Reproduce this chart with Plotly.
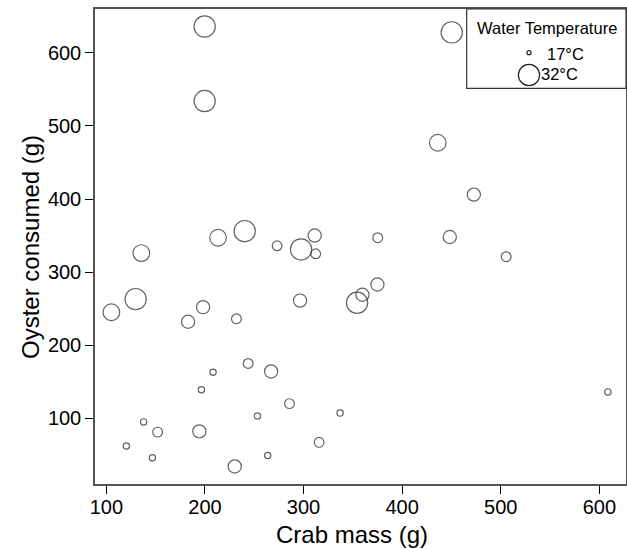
import plotly.graph_objects as go

crab_mass = [199.7, 199.7, 450.3, 436.1, 472.7, 135.5, 213.3, 240.3, 273.2, 311.3,
             297.5, 312.3, 105.1, 129.7, 182.9, 198.1, 231.9, 296.5, 354.3, 359.7,
             375.2, 448.3, 505.5, 374.9, 608.6, 208.2, 243.8, 267.1, 196.4, 285.7,
             137.8, 152.0, 194.3, 253.2, 337.1, 120.3, 146.7, 315.8, 263.6, 230.2]
oyster_consumed = [636, 534, 628, 477, 406, 326, 347, 356, 336, 350,
                   331, 325, 245, 263, 232, 252, 236, 261, 258, 269,
                   347, 348, 321, 283, 136, 163, 175, 164, 139, 120,
                   95, 81, 82, 103, 107, 62, 46, 67, 49, 34]
water_temp = [32, 32, 32, 28, 25, 28, 28, 32, 22, 25,
              32, 22, 28, 32, 25, 25, 22, 25, 32, 25,
              22, 25, 22, 25, 19, 19, 22, 25, 19, 22,
              19, 22, 25, 19, 19, 19, 19, 22, 19, 25]
legend_temps = [17, 32]
legend_labels = ["17°C", "32°C"]
x_ticks = [100, 200, 300, 400, 500, 600]
y_ticks = [100, 200, 300, 400, 500, 600]


def temp_to_size(t):
    return 4 + (t - 17) * 1.15


FONT = "Liberation Sans, Arial, Helvetica, sans-serif"

fig = go.Figure()
fig.add_trace(go.Scatter(
    x=crab_mass, y=oyster_consumed, mode="markers",
    marker=dict(size=[temp_to_size(t) for t in water_temp],
                color="rgba(0,0,0,0)", symbol="circle",
                line=dict(color="#222222", width=1.2)),
    showlegend=False, hoverinfo="x+y",
))

# plot area in pixels: left 95, right 626, top 9, bottom 484
W, H = 627, 549
L, R, T, B = 95, 1, 9, 65
pw, ph = W - L - R, H - T - B


def px_x(px):
    return (px - L) / pw


def px_y(py):
    return 1 - (py - T) / ph


shapes = []
annotations = []
# legend box
shapes.append(dict(type="rect", xref="paper", yref="paper",
                   x0=px_x(466.7), x1=1, y0=px_y(88.3), y1=1,
                   line=dict(color="#333333", width=1.2), fillcolor="white", layer="above"))
annotations.append(dict(text="Water Temperature", xref="paper", yref="paper",
                        x=px_x(547), y=px_y(27.7), showarrow=False,
                        xanchor="center", yanchor="middle",
                        font=dict(family=FONT, size=16.5, color="black")))
leg_y = [52.7, 75]
text_x = [545, 539]
text_y = [54, 74.3]
for t, lab, cy, tx, ty in zip(legend_temps, legend_labels, leg_y, text_x, text_y):
    d = temp_to_size(t)
    shapes.append(dict(type="circle", xref="paper", yref="paper",
                       xsizemode="pixel", ysizemode="pixel",
                       xanchor=px_x(529), yanchor=px_y(cy),
                       x0=-d / 2, x1=d / 2, y0=-d / 2, y1=d / 2,
                       line=dict(color="#222222", width=1.2), layer="above"))
    annotations.append(dict(text=lab, xref="paper", yref="paper",
                            x=px_x(tx), y=px_y(ty), showarrow=False,
                            xanchor="left", yanchor="middle",
                            font=dict(family=FONT, size=16.5, color="black")))

# axis titles
annotations.append(dict(text="Crab mass (g)", xref="paper", yref="paper",
                        x=px_x(352), y=px_y(534), showarrow=False,
                        xanchor="center", yanchor="middle",
                        font=dict(family=FONT, size=24, color="black")))
annotations.append(dict(text="Oyster consumed (g)", xref="paper", yref="paper",
                        x=px_x(30), y=px_y(247), showarrow=False, textangle=-90,
                        xanchor="center", yanchor="middle",
                        font=dict(family=FONT, size=24, color="black")))

fig.update_layout(
    width=W, height=H,
    margin=dict(l=L, r=R, t=T, b=B),
    paper_bgcolor="white", plot_bgcolor="white",
    shapes=shapes, annotations=annotations,
    font=dict(family=FONT, color="black"),
    xaxis=dict(range=[88.5, 627], tickvals=x_ticks, ticks="outside", ticklen=8,
               tickcolor="black", tickwidth=1, showline=True, mirror=True,
               linecolor="#555555", linewidth=1.5, showgrid=False, zeroline=False,
               ticklabelstandoff=-4,
               tickfont=dict(family=FONT, size=20, color="black"), automargin=False),
    yaxis=dict(range=[10, 660], tickvals=y_ticks, ticks="outside", ticklen=8,
               tickcolor="black", tickwidth=1, showline=True, mirror=True,
               linecolor="#555555", linewidth=1.5, showgrid=False, zeroline=False,
               tickfont=dict(family=FONT, size=20, color="black"), automargin=False),
)

fig.write_html("out.html")
